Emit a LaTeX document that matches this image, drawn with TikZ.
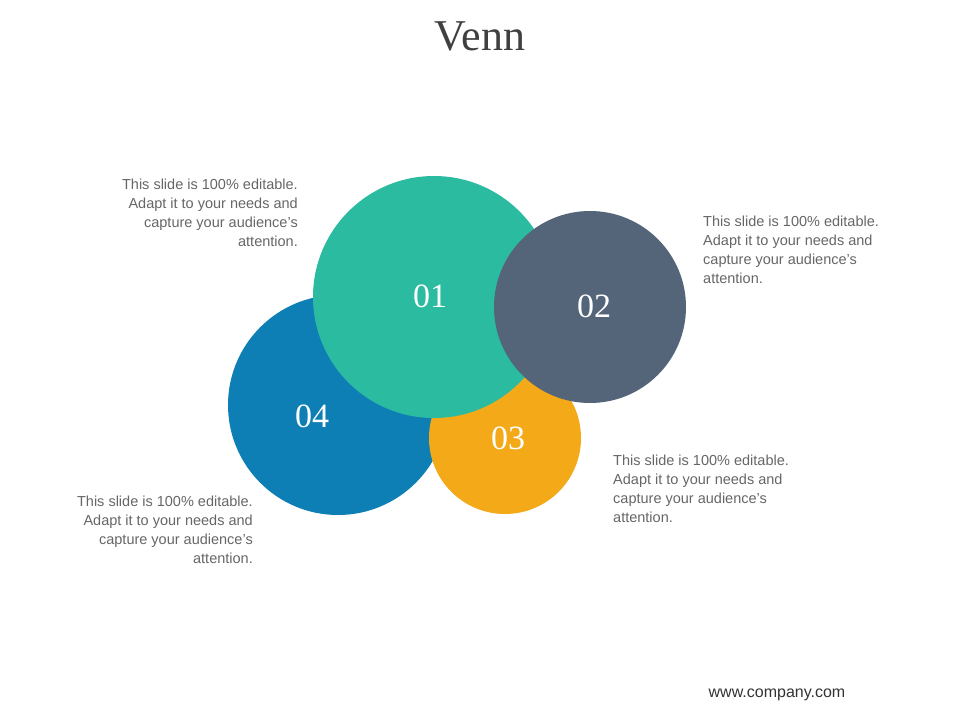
\documentclass[tikz,border=0pt]{standalone}
\usepackage{fontspec}
\setmainfont{Liberation Sans}
\newfontfamily\serifnum{Liberation Serif}
\definecolor{cteal}{HTML}{2BBBA0}
\definecolor{cslate}{HTML}{546579}
\definecolor{cblue}{HTML}{0E7FB5}
\definecolor{corange}{HTML}{F3A918}
\definecolor{ctext}{HTML}{666666}
\begin{document}
\begin{tikzpicture}[x=1pt,y=-1pt,
  circ/.style={circle,inner sep=0pt,minimum size=#1},
  num/.style={text=white,font=\serifnum\fontsize{34}{34}\selectfont},
  body/.style={text=ctext,font=\fontsize{14.5}{19}\selectfont,align=#1,inner sep=0pt}]
\useasboundingbox (0,0) rectangle (960,720);
\node (t) at (480,36) {\serifnum\fontsize{44}{44}\selectfont\color[HTML]{404040}Venn};
\node[circ=220pt,fill=cblue] (c4) at (338,405) {};
\node[circ=152pt,fill=corange] (c3) at (505,438) {};
\node[circ=242pt,fill=cteal] (c1) at (434,297) {};
\node[circ=192pt,fill=cslate] (c2) at (590,307) {};
\node[num] (n1) at (430,296) {01};
\node[num] (n2) at (594,306) {02};
\node[num] (n3) at (508,438) {03};
\node[num] (n4) at (312,416) {04};
\node[body=right,anchor=north east] (d1) at (298,179) {This slide is 100\% editable.\\Adapt it to your needs and\\capture your audience's\\attention.};
\node[body=left,anchor=north west] (d2) at (703,216) {This slide is 100\% editable.\\Adapt it to your needs and\\capture your audience's\\attention.};
\node[body=left,anchor=north west] (d3) at (613,455) {This slide is 100\% editable.\\Adapt it to your needs and\\capture your audience's\\attention.};
\node[body=right,anchor=north east] (d4) at (253,496) {This slide is 100\% editable.\\Adapt it to your needs and\\capture your audience's\\attention.};
\node[text=black!80,font=\fontsize{16}{16}\selectfont] (w) at (777,695) {www.company.com};
\end{tikzpicture}
\end{document}
